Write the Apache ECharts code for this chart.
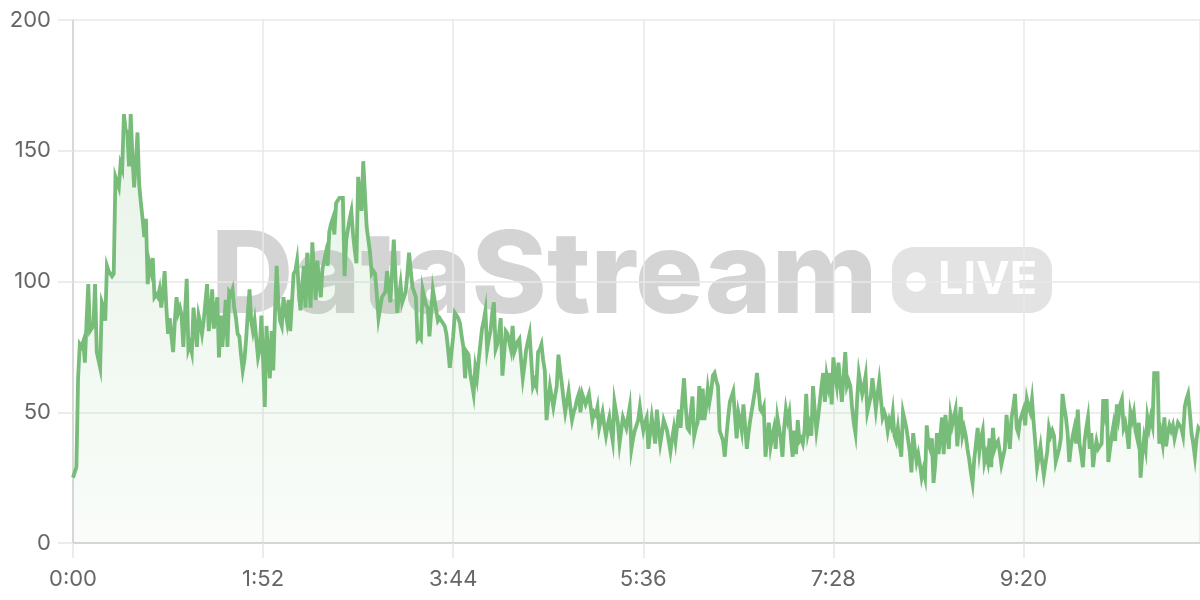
<!DOCTYPE html>
<html>
<head>
<meta charset="utf-8">
<script src="https://cdn.jsdelivr.net/npm/echarts@6/dist/echarts.min.js"></script>
<style>
html,body{margin:0;padding:0;background:#fff;}
#chart{width:1200px;height:600px;}
</style>
</head>
<body>
<div id="chart"></div>
<script>
// one sample per second, starting at 0:00
const sampleSeconds = 1;
const xMaxSeconds = 664;
const xTickSeconds = 112;
const yTicks = [0, 50, 100, 150, 200];
const watermarkText = 'DataStream';
const badgeText = 'LIVE';

const values = [
25,27,29,63,76,75,77,69,85,99, 81,82,83,99,73,70,67,92,90,85,
106,104,103,102,103,140,140,136,145,143, 164,158,157,144,164,148,136,145,157,137,
130,124,117,124,99,107,104,109,94,95, 94,97,90,96,104,90,80,86,79,73,
85,94,88,90,87,75,88,101,74,76, 73,90,82,75,87,84,80,85,92,99,
81,88,97,82,88,94,71,87,75,84, 93,75,96,95,97,90,86,80,79,72,
66,70,78,88,97,85,81,85,85,71, 74,87,70,52,83,72,63,81,66,88,
106,92,85,83,94,89,85,93,81,92, 103,104,108,97,89,98,106,90,111,100,
90,115,104,93,108,100,94,105,108,111, 106,119,122,124,118,130,130,132,132,132,
102,116,120,124,127,118,112,107,140,133, 127,146,146,121,116,111,103,104,103,95,
86,90,94,95,96,104,98,92,104,116, 116,88,94,99,92,94,96,103,111,104,
98,96,94,78,79,78,97,94,91,90, 79,88,97,93,89,85,86,85,84,83,
80,74,67,67,79,88,88,86,84,79, 75,63,73,72,65,61,57,67,63,70,
76,82,85,89,74,78,81,88,92,74, 76,80,86,64,72,81,80,77,74,83,
73,75,77,78,70,63,68,74,77,80, 70,60,62,60,73,74,76,70,66,47,
54,60,56,52,56,60,72,66,61,55, 50,54,58,52,47,50,52,55,57,50,
57,55,53,55,57,52,47,50,49,52, 44,47,50,45,41,45,48,43,39,54,
50,46,38,43,48,46,44,48,52,36, 40,43,45,47,52,47,43,46,48,36,
42,48,43,38,51,44,38,42,47,45, 43,39,35,40,44,39,45,51,44,55,
63,52,44,43,50,56,41,44,46,60, 47,59,47,52,59,54,58,64,65,62,
60,43,41,39,33,41,48,54,56,58, 49,40,50,47,43,53,45,36,42,47,
51,55,59,65,58,51,50,52,33,40, 46,37,41,44,36,48,48,40,33,44,
51,47,50,40,33,43,34,47,39,40, 38,43,57,42,45,41,60,51,43,48,
54,60,65,54,64,60,65,53,71,64, 60,69,61,54,54,73,60,62,60,52,
46,42,55,65,61,57,60,64,50,53, 56,63,57,51,57,62,55,48,50,48,
43,47,45,50,41,39,44,38,33,50, 47,44,44,35,27,42,36,31,34,30,
25,28,25,45,38,36,40,23,30,42, 34,41,48,34,49,42,36,49,45,48,
51,37,45,52,41,44,41,36,32,27, 23,32,38,44,35,40,43,31,34,31,
40,29,44,36,38,39,35,30,33,36, 49,42,36,48,52,57,44,42,47,49,
51,45,55,52,50,55,46,38,29,33, 37,31,26,26,35,44,41,43,41,31,
31,36,40,57,52,48,42,31,37,41, 44,38,51,38,34,29,39,44,48,36,
42,29,35,39,36,37,38,55,50,55, 31,36,41,45,39,53,48,53,55,44,
46,42,36,50,47,50,43,40,46,25, 34,40,36,48,44,48,45,65,65,65,
38,42,38,48,37,42,45,43,45,40, 43,46,45,44,41,52,55,57,50,42,
38,33,40,44,43
];

const seriesData = values.map((v, i) => [i * sampleSeconds, v]);

function fmtTime(s) {
  const m = Math.floor(s / 60);
  const sec = Math.round(s % 60);
  return m + ':' + (sec < 10 ? '0' : '') + sec;
}

const chart = echarts.init(document.getElementById('chart'), null, {renderer: 'canvas'});

const FONT = 'Inter, "Noto Sans", sans-serif';

chart.setOption({
  animation: false,
  backgroundColor: '#ffffff',
  textStyle: {fontFamily: FONT},
  grid: {left: 73, right: 0, top: 20, bottom: 57, containLabel: false},
  xAxis: {
    type: 'value',
    min: 0,
    max: xMaxSeconds,
    interval: xTickSeconds,
    axisLine: {show: true, lineStyle: {color: '#d0d0d0', width: 1.5}},
    axisTick: {show: true, length: 15, lineStyle: {color: '#e6e6e6', width: 1.5}},
    splitLine: {show: true, lineStyle: {color: '#e8e8e8', width: 1.5}},
    axisLabel: {
      showMaxLabel: false,
      color: '#666666',
      fontSize: 22,
      margin: 25,
      fontFamily: FONT,
      formatter: v => fmtTime(v)
    }
  },
  yAxis: {
    type: 'value',
    min: yTicks[0],
    max: yTicks[yTicks.length - 1],
    interval: yTicks[1] - yTicks[0],
    axisLine: {show: true, lineStyle: {color: '#d0d0d0', width: 1.5}},
    axisTick: {show: true, length: 15, lineStyle: {color: '#e6e6e6', width: 1.5}},
    splitLine: {show: true, lineStyle: {color: '#e8e8e8', width: 1.5}},
    axisLabel: {
      color: '#666666',
      fontSize: 22,
      margin: 22,
      fontFamily: FONT
    }
  },
  graphic: {
    elements: [
      {
        type: 'text',
        z: -1,
        silent: true,
        x: 211,
        y: 336,
        style: {
          text: watermarkText,
          fill: '#d4d4d4',
          font: '800 114px ' + FONT,
          textAlign: 'left',
          verticalAlign: 'bottom'
        }
      },
      {
        type: 'rect',
        z: -1,
        silent: true,
        shape: {x: 892, y: 247, width: 160, height: 66, r: 22},
        style: {fill: '#e3e3e3'}
      },
      {
        type: 'circle',
        z: -1,
        silent: true,
        shape: {cx: 916, cy: 282, r: 10},
        style: {fill: '#ffffff'}
      },
      {
        type: 'text',
        z: -1,
        silent: true,
        x: 938,
        y: 280,
        style: {
          text: badgeText,
          fill: '#ffffff',
          font: '700 45px ' + FONT,
          textAlign: 'left',
          verticalAlign: 'middle'
        }
      }
    ]
  },
  series: [{
    type: 'line',
    data: seriesData,
    showSymbol: false,
    symbol: 'none',
    sampling: null,
    zlevel: 1,
    z: 3,
    lineStyle: {color: '#78bc7a', width: 3.8, join: 'miter'},
    areaStyle: {
      color: new echarts.graphic.LinearGradient(0, 0, 0, 1, [
        {offset: 0, color: 'rgba(124,191,126,0.26)'},
        {offset: 1, color: 'rgba(124,191,126,0.06)'}
      ])
    }
  }]
});
</script>
</body>
</html>
